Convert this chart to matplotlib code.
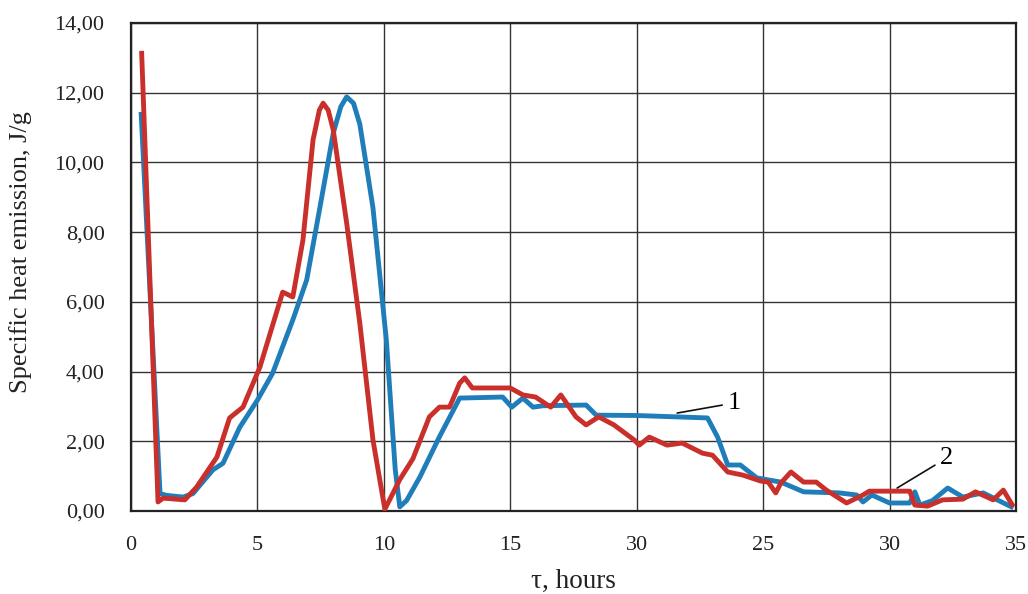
import matplotlib
matplotlib.use("Agg")
import matplotlib.pyplot as plt

# Curve 1 (blue)
t1 = [0.4, 1.15, 1.4, 2.06, 2.45, 3.24, 3.64, 4.3, 5.0, 5.6, 6.4, 6.95, 7.47, 8.0, 8.3, 8.53,
      8.8, 9.05, 9.57, 10.1, 10.45, 10.63, 10.9, 11.43, 12.2, 13.0, 14.7, 15.06, 15.5, 15.9,
      16.3, 18.0, 18.4, 20.0, 22.8, 23.2, 23.6, 24.1, 24.75, 25.7, 26.6, 28.0, 28.7, 28.95,
      29.3, 30.0, 30.8, 31.0, 31.2, 31.7, 32.3, 32.9, 33.7, 34.9]
y1 = [11.45, 0.5, 0.45, 0.4, 0.5, 1.18, 1.37, 2.4, 3.18, 3.95, 5.48, 6.63, 8.7, 10.84, 11.6, 11.88,
      11.7, 11.1, 8.7, 4.9, 1.2, 0.12, 0.3, 0.98, 2.13, 3.24, 3.27, 2.98, 3.24, 2.98,
      3.02, 3.04, 2.75, 2.74, 2.67, 2.12, 1.32, 1.32, 0.95, 0.83, 0.55, 0.52, 0.46, 0.26,
      0.46, 0.23, 0.23, 0.55, 0.17, 0.3, 0.66, 0.4, 0.52, 0.09]

# Curve 2 (red)
t2 = [0.42, 1.07, 1.27, 2.13, 2.6, 3.4, 3.9, 4.43, 5.1, 6.0, 6.4, 6.8, 7.2, 7.45, 7.6, 7.8, 8.0, 8.53,
      9.05, 9.57, 10.04, 10.63, 11.15, 11.8, 12.2, 12.6, 13.0, 13.2, 13.5, 15.0, 15.5, 16.0,
      16.6, 17.0, 17.6, 18.0, 18.5, 19.1, 19.9, 20.1, 20.5, 21.2, 21.8, 22.6, 23.0, 23.6,
      24.2, 24.9, 25.2, 25.5, 25.7, 26.1, 26.6, 27.1, 27.5, 28.3, 28.95, 29.2, 30.8, 31.0,
      31.5, 32.1, 32.9, 33.4, 34.1, 34.5, 34.9]
y2 = [13.2, 0.26, 0.37, 0.32, 0.69, 1.55, 2.67, 2.98, 4.13, 6.28, 6.14, 7.77, 10.64, 11.5, 11.7, 11.5, 10.93, 8.26,
      5.39, 2.04, 0.05, 0.9, 1.5, 2.7, 2.98, 2.98, 3.67, 3.82, 3.53, 3.53, 3.33, 3.27,
      2.98, 3.33, 2.7, 2.47, 2.7, 2.47, 2.04, 1.89, 2.12, 1.89, 1.95, 1.66, 1.6, 1.12,
      1.03, 0.86, 0.83, 0.52, 0.8, 1.12, 0.83, 0.83, 0.6, 0.23, 0.46, 0.57, 0.57, 0.17,
      0.14, 0.32, 0.34, 0.55, 0.32, 0.6, 0.12]

xticks = [0, 5, 10, 15, 20, 25, 30, 35]
xtick_labels = ["0", "5", "10", "15", "30", "25", "30", "35"]
yticks = [0, 2, 4, 6, 8, 10, 12, 14]
ytick_labels = ["0,00", "2,00", "4,00", "6,00", "8,00", "10,00", "12,00", "14,00"]

plt.rcParams['font.family'] = ['Liberation Serif', 'DejaVu Serif']

fig = plt.figure(figsize=(10.28, 5.94), dpi=100)
ax = fig.add_axes([0.1274, 0.1397, 0.8609, 0.8216])

ax.plot(t1, y1, color='#1f7db9', lw=3.5, solid_joinstyle='round', solid_capstyle='butt', zorder=3)
ax.plot(t2, y2, color='#c9302b', lw=3.5, solid_joinstyle='round', solid_capstyle='butt', zorder=4)

ax.set_xlim(0, 35)
ax.set_ylim(0, 14)
ax.set_xticks(xticks)
ax.set_xticklabels(xtick_labels)
ax.set_yticks(yticks)
ax.set_yticklabels(ytick_labels)
ax.tick_params(axis='both', length=0, labelsize=16, colors='#222222')
ax.tick_params(axis='x', pad=18)
ax.tick_params(axis='y', pad=19)
ax.grid(True, color='#333333', lw=1.0)
ax.set_axisbelow(True)
for s in ax.spines.values():
    s.set_color('#222222')
    s.set_linewidth(1.6)

ax.set_xlabel("τ, hours", fontsize=19.5, labelpad=10, color='#222222')
ax.set_ylabel("Specific heat emission, J/g", fontsize=19, color='#222222')
ax.yaxis.set_label_coords(-0.112, 0.53)

ax.annotate("1", xy=(21.6, 2.81), xytext=(23.6, 3.1), fontsize=19, va='center', ha='left',
            arrowprops=dict(arrowstyle='-', color='#111111', lw=1.2, shrinkA=2, shrinkB=0), zorder=5)
ax.annotate("2", xy=(30.3, 0.66), xytext=(32.0, 1.52), fontsize=19, va='center', ha='left',
            arrowprops=dict(arrowstyle='-', color='#111111', lw=1.2, shrinkA=2, shrinkB=0), zorder=5)

fig.savefig("out.png", dpi=100)
